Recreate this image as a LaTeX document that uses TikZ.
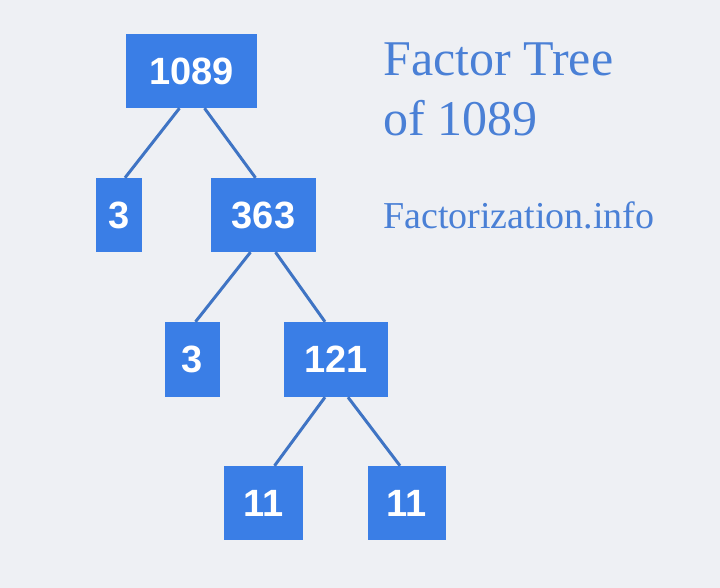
\documentclass[tikz,border=0pt]{standalone}
\usepackage{fontspec}
\setmainfont{Liberation Serif}
\setsansfont{Liberation Sans}
\begin{document}
\begin{tikzpicture}[x=1pt,y=-1pt,
  box/.style={fill=boxblue,text=white,font=\sffamily\bfseries\fontsize{38}{38}\selectfont,inner sep=0pt,anchor=center},
  edge/.style={draw=lineblue,line width=3pt}]
\definecolor{boxblue}{HTML}{3A7EE6}
\definecolor{lineblue}{HTML}{3F74C4}
\definecolor{bg}{HTML}{EEF0F4}
\definecolor{txt}{HTML}{4A80D6}
\fill[bg] (0,0) rectangle (720,588);
\useasboundingbox (0,0) rectangle (720,588);
\node[box,minimum width=131pt,minimum height=74pt] (a) at (191.5,71) {1089};
\node[box,minimum width=46pt,minimum height=74pt] (b) at (119,215) {3};
\node[box,minimum width=105pt,minimum height=74pt] (c) at (263.5,215) {363};
\node[box,minimum width=55pt,minimum height=75pt] (d) at (192.5,359.5) {3};
\node[box,minimum width=104pt,minimum height=75pt] (e) at (336,359.5) {121};
\node[box,minimum width=79pt,minimum height=74pt] (f) at (263.5,503) {11};
\node[box,minimum width=78pt,minimum height=74pt] (g) at (407,503) {11};
\draw[edge] ([xshift=-12pt]a.south) -- ([xshift=6pt]b.north);
\draw[edge] ([xshift=13pt]a.south) -- ([xshift=-8pt]c.north);
\draw[edge] ([xshift=-13pt]c.south) -- ([xshift=3pt]d.north);
\draw[edge] ([xshift=12pt]c.south) -- ([xshift=-11pt]e.north);
\draw[edge] ([xshift=-11pt]e.south) -- ([xshift=11pt]f.north);
\draw[edge] ([xshift=12pt]e.south) -- ([xshift=-7pt]g.north);
\node[anchor=base west,text=txt,font=\fontsize{50}{50}\selectfont,inner sep=0pt] (t1) at (383,76) {Factor Tree};
\node[anchor=base west,text=txt,font=\fontsize{50}{50}\selectfont,inner sep=0pt] (t2) at (383,136) {of 1089};
\node[anchor=base west,text=txt,font=\fontsize{38}{38}\selectfont,inner sep=0pt] (t3) at (383,229) {Factorization.info};
\end{tikzpicture}
\end{document}
